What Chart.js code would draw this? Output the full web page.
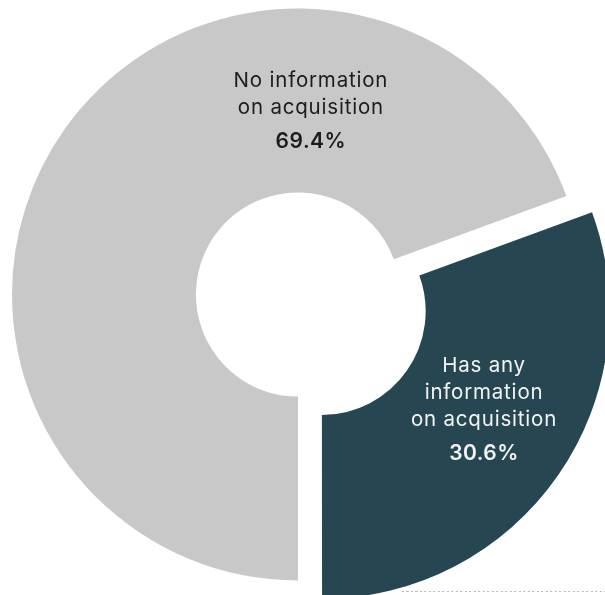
<!DOCTYPE html>
<html>
<head>
<meta charset="utf-8">
<script src="https://cdn.jsdelivr.net/npm/chart.js@4"></script>
<style>
  html, body { margin: 0; padding: 0; background: #ffffff; overflow: hidden; }
  #wrap { position: relative; width: 605px; height: 595px; }
  #chart { position: absolute; left: 0; top: 0; }
  #rule {
    position: absolute; left: 402px; top: 591px; width: 203px; height: 1px;
    background: repeating-linear-gradient(to right, #bdbdbd 0 2px, transparent 2px 4.5px);
  }
</style>
</head>
<body>
<div id="wrap">
  <canvas id="chart" width="605" height="595"></canvas>
  <div id="rule"></div>
</div>
<script>
// Share of records, by whether acquisition information is present
const categories = [
  ['No information', 'on acquisition'],
  ['Has any', 'information', 'on acquisition']
];
const shares = [69.4, 30.6];
const sliceColors = ['#c8c8c8', '#264752'];
const labelColors = ['#1c1c1c', '#f4f4f4'];

// Where each label block sits: angle clockwise from 12 o'clock, and
// fraction of the way across the ring from the inner edge.
const labelAngles = [4, 121];
const labelRingFractions = [0.45, 0.474];

const sliceLabels = {
  id: 'sliceLabels',
  afterDatasetsDraw(chart) {
    const ctx = chart.ctx;
    const meta = chart.getDatasetMeta(0);
    const values = chart.data.datasets[0].data;
    meta.data.forEach((arc, i) => {
      const p = arc.getProps(['x', 'y', 'startAngle', 'endAngle', 'innerRadius', 'outerRadius'], true);
      const shift = (arc.options.offset || 0) / 4;
      const mid = (p.startAngle + p.endAngle) / 2;
      const cx = p.x + Math.cos(mid) * shift;
      const cy = p.y + Math.sin(mid) * shift;
      const a = (labelAngles[i] - 90) * Math.PI / 180;
      const r = p.innerRadius + (p.outerRadius - p.innerRadius) * labelRingFractions[i];
      const ax = cx + Math.cos(a) * r;
      const ay = cy + Math.sin(a) * r;

      const lines = categories[i];
      const lineGap = 27, valueGap = 34, capH = 14.5;
      const span = capH + (lines.length - 1) * lineGap + valueGap;
      let y = ay - span / 2 + capH;

      ctx.save();
      ctx.fillStyle = labelColors[i];
      ctx.textAlign = 'center';
      ctx.textBaseline = 'alphabetic';
      ctx.letterSpacing = '0.8px';
      ctx.font = '400 20.5px Inter, "Noto Sans", sans-serif';
      lines.forEach((t, k) => {
        ctx.fillText(t, ax, y);
        if (k < lines.length - 1) y += lineGap;
      });
      y += valueGap;
      ctx.letterSpacing = '0.5px';
      ctx.font = '600 21px Inter, "Noto Sans", sans-serif';
      ctx.fillText(values[i].toFixed(1) + '%', ax, y);
      ctx.restore();
    });
  }
};

new Chart(document.getElementById('chart'), {
  type: 'doughnut',
  data: {
    labels: categories.map(c => c.join(' ')),
    datasets: [{
      data: shares,
      backgroundColor: sliceColors,
      borderWidth: 0,
      hoverBorderWidth: 0,
      hoverOffset: 0,
      offset: [0, 116],
      clip: false
    }]
  },
  options: {
    responsive: false,
    animation: false,
    events: [],
    rotation: 180,
    radius: 286,
    cutout: '35.7%',
    layout: { padding: { left: 0, top: 0, right: 9, bottom: 6 } },
    plugins: {
      legend: { display: false },
      tooltip: { enabled: false }
    }
  },
  plugins: [sliceLabels]
});
</script>
</body>
</html>
